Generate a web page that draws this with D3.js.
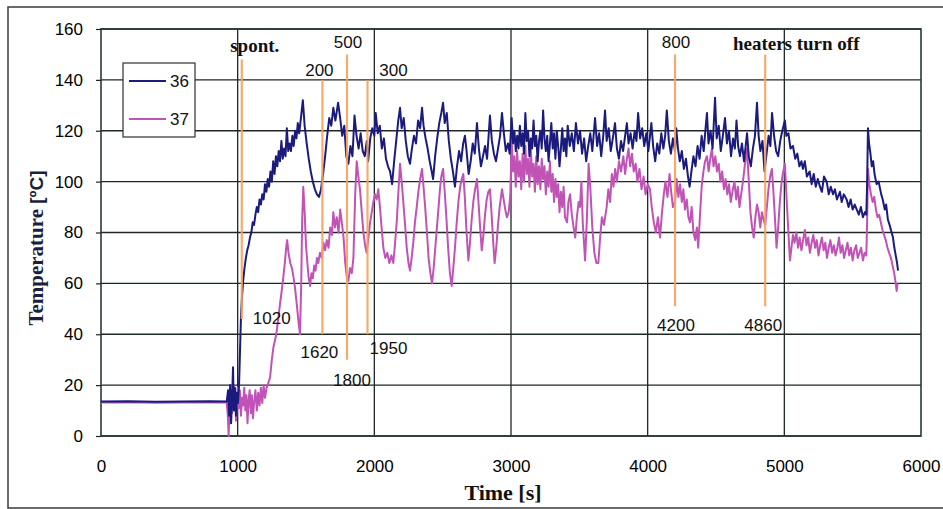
<!DOCTYPE html>
<html>
<head>
<meta charset="utf-8">
<script src="https://cdn.jsdelivr.net/npm/d3@7"></script>
<style>
  body { margin: 0; background: #fff; }
  svg { display: block; }
  .tick text { font-family: "Liberation Sans", Arial, sans-serif; font-size: 17px; fill: #000; }
</style>
</head>
<body>
<div id="chart"></div>
<script>
// channel 36 (navy) and 37 (magenta), [time s, temperature C]
const s36 = [
  [0,13.6],[200,13.7],[400,13.5],[600,13.6],[800,13.7],[920,13.6],[930,18],[937,8],[945,20],[952,5],
  [960,16],[966,27],[972,10],[980,19],[988,8],[995,17],[1002,13],[1010,20],[1018,35],[1025,48],
  [1032,55],[1040,61],[1050,66],[1060,70],[1070,73],[1080,75],[1090,78],[1100,80],[1110,84],[1120,83],
  [1130,87],[1140,90],[1150,88],[1160,93],[1170,91],[1180,95],[1190,93],[1200,99],[1210,96],[1220,101],
  [1230,98],[1240,104],[1250,100],[1260,108],[1270,103],[1280,110],[1290,106],[1300,112],[1310,108],[1320,116],
  [1330,109],[1340,113],[1350,110],[1360,121],[1370,112],[1380,115],[1390,112],[1400,118],[1410,114],[1420,120],
  [1430,117],[1440,123],[1450,119],[1465,126],[1477,132],[1490,122],[1505,115],[1520,109],[1535,104],[1550,100],
  [1565,97],[1580,95],[1595,94],[1610,97],[1625,103],[1640,110],[1655,118],[1670,125],[1685,122],[1700,129],
  [1715,124],[1735,131],[1750,125],[1765,118],[1780,122],[1795,110],[1810,107],[1825,114],[1840,110],[1855,126],
  [1870,118],[1885,113],[1900,119],[1915,112],[1930,110],[1945,116],[1955,108],[1970,117],[1985,121],[2000,118],
  [2010,127],[2025,119],[2040,122],[2055,113],[2070,117],[2085,109],[2100,106],[2115,104],[2130,99],[2145,108],
  [2160,116],[2175,124],[2188,129],[2200,121],[2215,125],[2230,116],[2245,110],[2261,107],[2275,113],[2290,118],
  [2305,115],[2320,124],[2335,121],[2349,129],[2360,122],[2375,117],[2390,113],[2405,108],[2420,104],[2430,101],
  [2445,110],[2460,117],[2475,123],[2490,127],[2503,131],[2515,123],[2530,127],[2545,116],[2560,109],[2575,104],
  [2590,98],[2605,106],[2620,112],[2635,108],[2650,115],[2663,118],[2675,112],[2690,103],[2705,108],[2720,115],
  [2735,111],[2751,123],[2765,113],[2780,106],[2795,110],[2810,114],[2825,109],[2846,126],[2860,116],[2875,111],
  [2890,108],[2905,113],[2920,118],[2934,127],[2948,119],[2962,112],[2978,115],[2990,111],[3005,125],[3015,115],
  [3025,120],[3035,112],[3045,118],[3055,113],[3065,122],[3075,114],[3085,119],[3095,111],[3105,127],[3115,116],
  [3125,120],[3135,110],[3145,117],[3155,113],[3165,124],[3175,114],[3185,118],[3195,108],[3205,116],[3215,120],
  [3225,113],[3235,128],[3245,117],[3255,112],[3265,118],[3275,108],[3285,115],[3295,123],[3305,113],[3315,119],
  [3325,109],[3335,120],[3345,114],[3355,106],[3365,113],[3375,121],[3385,112],[3395,117],[3405,110],[3415,122],
  [3430,114],[3445,119],[3460,112],[3475,123],[3490,115],[3505,120],[3520,111],[3535,117],[3550,108],[3565,114],
  [3580,119],[3595,112],[3615,125],[3630,114],[3645,119],[3660,110],[3675,118],[3688,128],[3700,116],[3715,121],
  [3730,112],[3745,117],[3761,123],[3775,113],[3790,109],[3805,116],[3820,112],[3835,118],[3848,123],[3860,115],
  [3875,119],[3890,113],[3905,120],[3918,116],[3930,127],[3945,117],[3960,121],[3975,114],[3990,119],[4005,112],
  [4015,117],[4027,123],[4040,114],[4055,108],[4070,115],[4085,111],[4100,119],[4115,113],[4128,118],[4140,128],
  [4155,116],[4170,111],[4185,117],[4200,112],[4209,121],[4222,113],[4235,108],[4250,112],[4265,105],[4280,109],
  [4295,102],[4307,98],[4320,104],[4335,110],[4350,106],[4365,114],[4380,109],[4395,118],[4410,112],[4422,120],
  [4434,127],[4445,115],[4460,120],[4475,113],[4493,133],[4505,117],[4520,122],[4535,112],[4550,118],[4566,125],
  [4580,115],[4595,120],[4610,110],[4625,117],[4638,113],[4650,124],[4662,114],[4675,110],[4690,115],[4705,108],
  [4715,113],[4727,119],[4740,110],[4755,106],[4770,113],[4785,118],[4800,131],[4812,118],[4825,112],[4840,116],
  [4855,104],[4870,111],[4885,118],[4898,114],[4910,127],[4925,118],[4940,112],[4955,110],[4970,116],[4985,120],
  [5004,124],[5015,118],[5030,119],[5045,113],[5063,114],[5080,109],[5095,111],[5110,106],[5125,108],[5136,105],
  [5150,108],[5165,102],[5185,104],[5200,99],[5215,103],[5230,98],[5245,101],[5261,98],[5275,96],[5290,102],
  [5310,100],[5325,95],[5340,98],[5356,95],[5370,97],[5385,93],[5407,96],[5420,92],[5435,95],[5456,93],
  [5470,90],[5485,93],[5500,89],[5515,91],[5530,89],[5545,87],[5560,90],[5575,86],[5590,88],[5600,87],
  [5606,100],[5612,121],[5620,115],[5630,111],[5640,106],[5650,108],[5660,103],[5675,99],[5690,100],[5709,95],
  [5720,93],[5735,89],[5745,91],[5758,85],[5770,83],[5785,80],[5795,78],[5805,74],[5815,71],[5825,68],[5832,65]
];

const s37 = [
  [0,13.2],[200,13.3],[400,13.1],[600,13.2],[800,13.3],[920,13.2],[928,8],[934,0],[940,12],[946,5],
  [952,18],[958,9],[964,15],[970,20],[976,10],[982,17],[988,6],[994,14],[1000,19],[1008,11],
  [1016,18],[1024,8],[1032,15],[1040,12],[1048,19],[1056,10],[1064,16],[1072,5],[1080,14],[1088,18],
  [1096,9],[1104,16],[1112,7],[1120,13],[1130,18],[1140,10],[1150,17],[1160,12],[1170,19],[1180,13],
  [1190,20],[1200,15],[1212,19],[1225,21],[1237,23],[1250,30],[1262,35],[1275,38],[1285,41],[1297,46],
  [1310,52],[1322,57],[1333,62],[1345,68],[1355,74],[1362,77],[1372,72],[1385,68],[1397,66],[1407,63],
  [1420,58],[1432,52],[1445,45],[1456,40],[1465,60],[1472,85],[1480,98],[1490,88],[1500,75],[1510,68],
  [1520,62],[1530,59],[1540,64],[1550,62],[1560,67],[1570,65],[1580,70],[1590,68],[1602,72],[1615,70],
  [1628,76],[1640,73],[1652,77],[1665,74],[1677,82],[1690,79],[1700,88],[1712,82],[1725,86],[1738,80],
  [1750,89],[1762,84],[1775,78],[1787,68],[1800,62],[1810,61],[1822,66],[1835,64],[1847,70],[1860,95],
  [1871,108],[1883,102],[1895,97],[1908,88],[1920,80],[1932,75],[1944,72],[1957,78],[1969,84],[1981,88],
  [1993,92],[2005,95],[2017,93],[2029,97],[2041,90],[2053,82],[2066,74],[2080,70],[2095,72],[2110,68],
  [2125,71],[2139,68],[2152,76],[2165,85],[2176,96],[2188,107],[2200,100],[2212,92],[2225,83],[2237,74],
  [2250,68],[2261,65],[2273,70],[2285,76],[2297,84],[2310,90],[2322,96],[2335,101],[2349,105],[2360,98],
  [2372,90],[2385,80],[2397,70],[2410,64],[2422,60],[2434,66],[2446,74],[2458,82],[2470,90],[2480,97],
  [2490,102],[2503,105],[2515,96],[2527,86],[2540,74],[2553,64],[2566,59],[2578,66],[2590,74],[2603,84],
  [2615,92],[2628,98],[2640,101],[2651,103],[2662,94],[2675,80],[2688,69],[2700,76],[2712,85],[2724,92],
  [2737,97],[2751,101],[2762,92],[2774,82],[2786,73],[2798,79],[2810,87],[2822,93],[2834,96],[2846,97],
  [2857,88],[2869,77],[2880,68],[2892,74],[2905,83],[2917,90],[2934,97],[2946,93],[2958,89],[2970,86],
  [2983,88],[2995,95],[3005,116],[3015,104],[3025,110],[3035,98],[3045,112],[3055,102],[3065,108],[3075,97],
  [3085,111],[3095,100],[3105,114],[3115,103],[3125,109],[3135,98],[3145,113],[3155,102],[3165,107],[3175,96],
  [3185,110],[3195,99],[3205,106],[3215,97],[3225,109],[3235,101],[3245,106],[3255,95],[3265,104],[3275,98],
  [3285,108],[3295,96],[3305,103],[3315,92],[3325,101],[3335,94],[3345,99],[3355,88],[3365,96],[3375,90],
  [3385,98],[3395,86],[3410,84],[3420,92],[3432,95],[3445,87],[3458,82],[3470,78],[3482,86],[3495,92],
  [3505,90],[3515,100],[3525,84],[3542,69],[3555,85],[3568,107],[3580,98],[3595,82],[3610,72],[3625,68],
  [3639,68],[3652,78],[3665,86],[3680,83],[3700,90],[3712,97],[3725,92],[3738,103],[3750,98],[3762,105],
  [3775,100],[3790,108],[3805,104],[3822,110],[3835,103],[3848,109],[3860,113],[3872,106],[3885,111],[3898,104],
  [3912,107],[3925,100],[3940,105],[3955,97],[3970,102],[3985,95],[4000,99],[4017,97],[4030,90],[4045,84],
  [4060,80],[4075,86],[4090,78],[4105,88],[4118,95],[4130,100],[4145,94],[4160,103],[4172,96],[4185,90],
  [4200,92],[4212,101],[4225,94],[4237,99],[4250,92],[4261,97],[4273,89],[4286,93],[4298,86],[4310,84],
  [4322,90],[4335,80],[4348,77],[4360,82],[4370,74],[4382,86],[4395,98],[4408,104],[4420,108],[4434,110],
  [4446,104],[4458,109],[4470,113],[4482,106],[4495,110],[4507,104],[4520,107],[4532,100],[4545,104],[4558,97],
  [4570,101],[4583,95],[4595,99],[4608,92],[4620,96],[4635,100],[4648,93],[4660,98],[4672,90],[4684,95],
  [4697,100],[4710,106],[4727,113],[4740,100],[4752,88],[4764,82],[4776,78],[4788,86],[4800,91],[4812,88],
  [4824,82],[4836,88],[4848,85],[4860,83],[4872,90],[4884,97],[4896,102],[4909,105],[4920,96],[4932,85],
  [4943,74],[4955,82],[4967,92],[4980,100],[4992,104],[5004,107],[5015,95],[5028,82],[5041,69],[5052,74],
  [5063,79],[5075,76],[5088,80],[5100,74],[5112,78],[5125,73],[5137,77],[5150,81],[5162,75],[5175,78],
  [5187,72],[5200,76],[5212,79],[5225,74],[5237,77],[5250,71],[5262,75],[5275,78],[5288,73],[5300,76],
  [5312,70],[5325,74],[5337,77],[5350,72],[5362,75],[5375,71],[5388,74],[5400,78],[5412,72],[5425,75],
  [5437,70],[5450,73],[5462,76],[5475,71],[5487,74],[5500,69],[5512,73],[5525,75],[5537,70],[5550,72],
  [5562,74],[5575,69],[5587,72],[5600,71],[5606,85],[5612,105],[5622,99],[5634,95],[5646,92],[5658,94],
  [5670,89],[5682,86],[5694,87],[5706,84],[5718,81],[5730,79],[5742,77],[5755,74],[5767,72],[5780,70],
  [5792,67],[5804,64],[5815,60],[5822,57],[5828,60]
];

const seriesNames = ['36', '37'];
const xTicks = [0, 1000, 2000, 3000, 4000, 5000, 6000];
const yTicks = [0, 20, 40, 60, 80, 100, 120, 140, 160];

// event markers: time, top / bottom temperature of the orange line, labels
const markerTimes = [1030, 1620, 1800, 1950, 4200, 4860];
const markerTop = [148, 140, 150, 140, 150, 150];
const markerBottom = [46, 40, 30, 40, 51, 51];
const markerTopLabels = ['spont.', '200', '500', '300', '800', 'heaters turn off'];
const markerBottomLabels = ['1020', '1620', '1800', '1950', '4200', '4860'];

const W = 943, H = 509;
const plot = { left: 101, right: 921, top: 29, bottom: 436 };
const sans = '"Liberation Sans", Arial, sans-serif';
const serif = '"Liberation Serif", "Times New Roman", serif';
const colors = ['#1b1b7e', '#c152b6'];

const svg = d3.select('#chart').append('svg')
    .attr('width', W)
    .attr('height', H);

// outer figure frame
svg.append('rect')
    .attr('x', 8).attr('y', 7)
    .attr('width', 960).attr('height', 501)
    .attr('fill', 'none')
    .attr('stroke', '#3a3a3a')
    .attr('stroke-width', 1.5);

const x = d3.scaleLinear().domain([0, 6000]).range([plot.left, plot.right]);
const y = d3.scaleLinear().domain([0, 160]).range([plot.bottom, plot.top]);

// grid
const grid = svg.append('g');
grid.selectAll('.hgrid')
    .data(yTicks)
    .join('line')
    .attr('x1', plot.left).attr('x2', plot.right)
    .attr('y1', d => y(d)).attr('y2', d => y(d))
    .attr('stroke', '#1e2626')
    .attr('stroke-width', 1.3);

grid.selectAll('.vgrid')
    .data(xTicks.slice(1, -1))
    .join('line')
    .attr('x1', d => x(d)).attr('x2', d => x(d))
    .attr('y1', plot.top).attr('y2', plot.bottom)
    .attr('stroke', '#1e2626')
    .attr('stroke-width', 1.3);

grid.append('rect')
    .attr('x', plot.left).attr('y', plot.top)
    .attr('width', plot.right - plot.left)
    .attr('height', plot.bottom - plot.top)
    .attr('fill', 'none')
    .attr('stroke', '#2b3838')
    .attr('stroke-width', 1.6);

// axes
const yAxis = svg.append('g')
    .attr('transform', `translate(${plot.left},0)`)
    .call(d3.axisLeft(y).tickValues(yTicks).tickSize(5).tickPadding(13));
yAxis.select('.domain').remove();
yAxis.selectAll('.tick line').attr('stroke', '#222').attr('stroke-width', 1.2);

const xAxis = svg.append('g')
    .attr('transform', `translate(0,${plot.bottom})`)
    .call(d3.axisBottom(x).tickValues(xTicks).tickSize(0).tickPadding(24).tickFormat(d3.format('d')));
xAxis.select('.domain').remove();

// axis titles
svg.append('text')
    .attr('x', 503).attr('y', 500)
    .attr('text-anchor', 'middle')
    .attr('font-family', serif)
    .attr('font-weight', 'bold')
    .attr('font-size', 22)
    .attr('fill', '#111')
    .text('Time [s]');

const yTitle = svg.append('text')
    .attr('transform', 'translate(43,248) rotate(-90)')
    .attr('text-anchor', 'middle')
    .attr('font-weight', 'bold')
    .attr('font-size', 21)
    .attr('fill', '#1a1f3a');
yTitle.append('tspan').attr('font-family', serif).text('Temperature ');
yTitle.append('tspan').attr('font-family', sans).attr('font-size', 19).text('[ºC]');

// data lines
const line = d3.line()
    .x(d => x(d[0]))
    .y(d => y(d[1]));

const lines = svg.append('g');
[s37, s36].forEach((s, i) => {
    lines.append('path')
        .datum(s)
        .attr('fill', 'none')
        .attr('stroke', colors[1 - i])
        .attr('stroke-width', 2)
        .attr('stroke-linejoin', 'round')
        .attr('d', line);
});

// event markers
const markers = svg.append('g');
markers.selectAll('line')
    .data(markerTimes)
    .join('line')
    .attr('x1', d => x(d)).attr('x2', d => x(d))
    .attr('y1', (d, i) => y(markerTop[i]))
    .attr('y2', (d, i) => y(markerBottom[i]))
    .attr('stroke', '#f7a35c')
    .attr('stroke-width', 2.2)
    .attr('opacity', 0.9);

// label placement relative to the marker line (px)
const topLabelPos = [[13, 52, true], [-3, 76, false], [1, 48, false], [26, 76, false], [1, 48, false], [31, 50, true]];
const bottomLabelPos = [[30, 324], [-3, 358], [5, 386], [21, 354], [1, 331], [-2, 331]];

markers.selectAll('.top-label')
    .data(markerTopLabels)
    .join('text')
    .attr('class', 'top-label')
    .attr('x', (d, i) => x(markerTimes[i]) + topLabelPos[i][0])
    .attr('y', (d, i) => topLabelPos[i][1])
    .attr('text-anchor', 'middle')
    .attr('font-family', (d, i) => topLabelPos[i][2] ? serif : sans)
    .attr('font-weight', (d, i) => topLabelPos[i][2] ? 'bold' : 'normal')
    .attr('font-size', (d, i) => topLabelPos[i][2] ? 19 : 17)
    .attr('fill', '#111')
    .text(d => d);

markers.selectAll('.bottom-label')
    .data(markerBottomLabels)
    .join('text')
    .attr('class', 'bottom-label')
    .attr('x', (d, i) => x(markerTimes[i]) + bottomLabelPos[i][0])
    .attr('y', (d, i) => bottomLabelPos[i][1])
    .attr('text-anchor', 'middle')
    .attr('font-family', sans)
    .attr('font-size', 17)
    .attr('fill', '#111')
    .text(d => d);

// legend
const legend = svg.append('g').attr('transform', 'translate(123,63)');
legend.append('rect')
    .attr('width', 72).attr('height', 74)
    .attr('fill', '#fff')
    .attr('stroke', '#2b3030')
    .attr('stroke-width', 1.2);
seriesNames.forEach((name, i) => {
    const ly = 18 + i * 38;
    legend.append('line')
        .attr('x1', 6).attr('x2', 43)
        .attr('y1', ly).attr('y2', ly)
        .attr('stroke', colors[i])
        .attr('stroke-width', 2);
    legend.append('text')
        .attr('x', 47).attr('y', ly + 6)
        .attr('font-family', sans)
        .attr('font-size', 17)
        .attr('fill', '#111')
        .text(name);
});
</script>
</body>
</html>
